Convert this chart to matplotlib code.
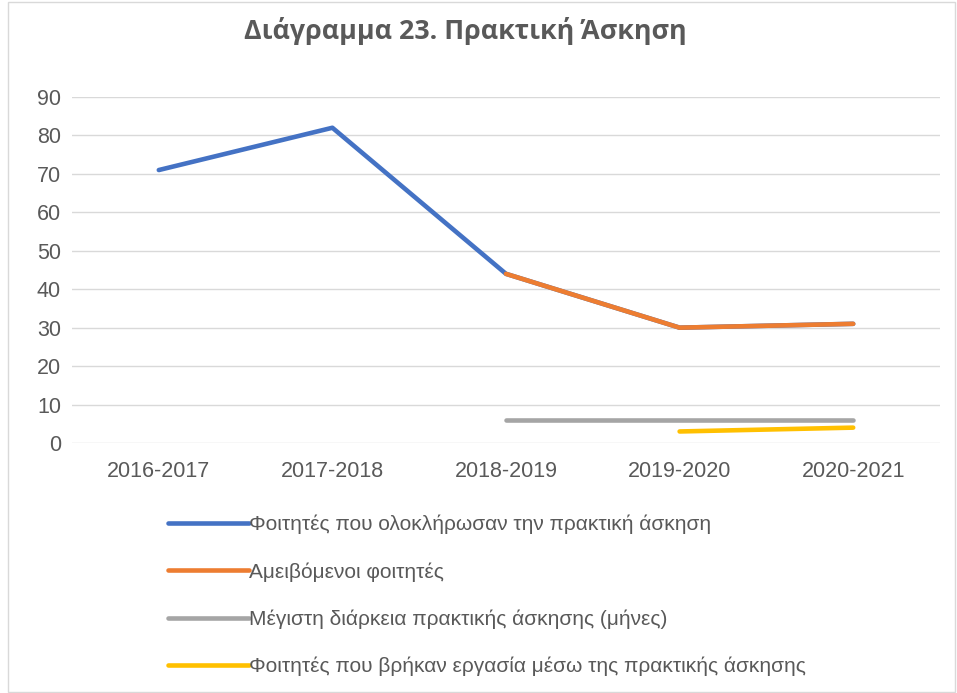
import matplotlib
matplotlib.use("Agg")
import matplotlib.pyplot as plt
from matplotlib.patches import Rectangle

# δεδομένα
years = ["2016-2017", "2017-2018", "2018-2019", "2019-2020", "2020-2021"]
completed = [71, 82, 44, 30, 31]
paid = [None, None, 44, 30, 31]
max_months = [None, None, 6, 6, 6]
found_job = [None, None, None, 3, 4]

labels = [
    "Φοιτητές που ολοκλήρωσαν την πρακτική άσκηση",
    "Αμειβόμενοι φοιτητές",
    "Μέγιστη διάρκεια πρακτικής άσκησης (μήνες)",
    "Φοιτητές που βρήκαν εργασία μέσω της πρακτικής άσκησης",
]
colors = ["#4472C4", "#ED7D31", "#A5A5A5", "#FFC000"]
yticks = [0, 10, 20, 30, 40, 50, 60, 70, 80, 90]

body_font = "Liberation Sans"
text_col = "#595959"

fig = plt.figure(figsize=(9.57, 6.93), dpi=100)
ax = fig.add_axes([72 / 957, 250 / 693, 868 / 957, 346 / 693])

series = [completed, paid, max_months, found_job]
x = list(range(len(years)))
handles = []
for vals, col, lab in zip(series, colors, labels):
    xs = [i for i, v in zip(x, vals) if v is not None]
    ys = [v for v in vals if v is not None]
    h, = ax.plot(xs, ys, color=col, lw=3.3, solid_capstyle="round", label=lab)
    handles.append(h)

ax.set_xlim(-0.5, 4.5)
ax.set_ylim(0, 90)
ax.set_yticks(yticks)
ax.set_xticks(x)
ax.set_xticklabels(years)
ax.grid(axis="y", color="#D9D9D9", lw=1)
ax.set_axisbelow(True)
for s in ax.spines.values():
    s.set_visible(False)
ax.tick_params(length=0, labelsize=15.5, labelcolor=text_col)
ax.tick_params(axis="y", pad=8)
ax.tick_params(axis="x", pad=13)
for t in ax.get_xticklabels() + ax.get_yticklabels():
    t.set_fontfamily(body_font)

fig.text(0.486, 0.955, "Διάγραμμα 23. Πρακτική Άσκηση", ha="center", va="center",
         fontsize=19.3, fontweight="bold", color=text_col, family="Open Sans")

leg = fig.legend(handles=handles, loc="upper left", bbox_to_anchor=(168 / 957, 1 - 515 / 693),
                 frameon=False, handlelength=3.9, handletextpad=0.0, labelspacing=1.33,
                 borderpad=0, borderaxespad=0,
                 prop={"family": body_font, "size": 15}, labelcolor=text_col)

fig.patches.append(Rectangle((8 / 957, 0.002), 947 / 957, 0.995, transform=fig.transFigure,
                             fill=False, edgecolor="#D9D9D9", lw=1))

fig.savefig("out.png", dpi=100)
